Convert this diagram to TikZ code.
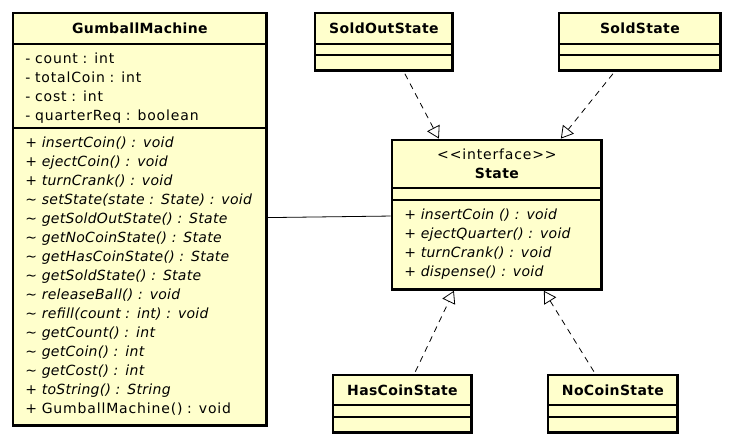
\documentclass[tikz,border=0pt]{standalone}
\usepackage{fontspec}
\setmainfont{DejaVu Sans}[UprightFeatures={LetterSpace=6}, BoldFeatures={LetterSpace=2.5},
  ItalicFeatures={LetterSpace=2}]
\usetikzlibrary{arrows.meta,fit}

\definecolor{umlfill}{HTML}{FFFFCC}

\tikzset{
  classname/.style={draw, line width=0.8pt, fill=umlfill, anchor=north west, inner sep=0pt,
    align=center, font=\fontsize{14}{19}\selectfont\bfseries},
  classpart/.style={draw, line width=0.8pt, fill=umlfill, anchor=north west, inner xsep=12pt,
    inner ysep=0pt, align=left, font=\fontsize{14}{19}\selectfont},
  classframe/.style={draw, line width=2.8pt, inner sep=0pt},
  realize/.style={line width=0.8pt, dash pattern=on 6pt off 5pt,
    -{Triangle[open, length=12pt, width=14pt]}},
  assoc/.style={line width=0.8pt}
}

\begin{document}
\begin{tikzpicture}[x=1pt, y=-1pt]
\useasboundingbox (0,0) rectangle (734,444);

    % GumballMachine
    \node[classname, text width=253pt, minimum height=30pt] (gmName) at (13,13) {GumballMachine};
    \node[classpart, text width=229pt, minimum height=83pt] (gmAttr) at (gmName.south west)
      {\rule{0pt}{16pt}- count : int\\- totalCoin : int\\- cost : int\\- quarterReq : boolean};
    \node[classpart, text width=229pt, minimum height=297pt] (gmOps) at (gmAttr.south west)
      {\itshape + insertCoin() : void\\\itshape + ejectCoin() : void\\\itshape + turnCrank() : void\\
       \itshape \textasciitilde{} setState(state : State) : void\\
       \itshape \textasciitilde{} getSoldOutState() : State\\
       \itshape \textasciitilde{} getNoCoinState() : State\\
       \itshape \textasciitilde{} getHasCoinState() : State\\
       \itshape \textasciitilde{} getSoldState() : State\\
       \itshape \textasciitilde{} releaseBall() : void\\
       \itshape \textasciitilde{} refill(count : int) : void\\
       \itshape \textasciitilde{} getCount() : int\\
       \itshape \textasciitilde{} getCoin() : int\\
       \itshape \textasciitilde{} getCost() : int\\
       \itshape + toString() : String\\
       \upshape + GumballMachine() : void};
    \node[classframe, fit=(gmName)(gmOps)] (gm) {};

    % State interface
    \node[classname, text width=209pt, minimum height=47pt] (stateName) at (392,140)
      {{\mdseries {<}{<}interface{>}{>}}\\State};
    \node[classpart, text width=185pt, minimum height=11pt] (stateAttr) at (stateName.south west) {};
    \node[classpart, text width=185pt, minimum height=89pt] (stateOps) at (stateAttr.south west)
      {\itshape + insertCoin () : void\\\itshape + ejectQuarter() : void\\
       \itshape + turnCrank() : void\\\itshape + dispense() : void};
    \node[classframe, fit=(stateName)(stateOps)] (state) {};

    % Top row
    \node[classname, text width=137pt, minimum height=30pt] (soldoutName) at (315,13) {SoldOutState};
    \node[classpart, text width=113pt, minimum height=10pt] (soldoutAttr) at (soldoutName.south west) {};
    \node[classpart, text width=113pt, minimum height=15pt] (soldoutOps) at (soldoutAttr.south west) {};
    \node[classframe, fit=(soldoutName)(soldoutOps)] (soldout) {};

    \node[classname, text width=161pt, minimum height=30pt] (soldName) at (559,13) {SoldState};
    \node[classpart, text width=137pt, minimum height=10pt] (soldAttr) at (soldName.south west) {};
    \node[classpart, text width=137pt, minimum height=15pt] (soldOps) at (soldAttr.south west) {};
    \node[classframe, fit=(soldName)(soldOps)] (sold) {};

    % Bottom row
    \node[classname, text width=138pt, minimum height=29pt] (hascoinName) at (333,375) {HasCoinState};
    \node[classpart, text width=114pt, minimum height=11pt] (hascoinAttr) at (hascoinName.south west) {};
    \node[classpart, text width=114pt, minimum height=15pt] (hascoinOps) at (hascoinAttr.south west) {};
    \node[classframe, fit=(hascoinName)(hascoinOps)] (hascoin) {};

    \node[classname, text width=129pt, minimum height=29pt] (nocoinName) at (548,375) {NoCoinState};
    \node[classpart, text width=105pt, minimum height=11pt] (nocoinAttr) at (nocoinName.south west) {};
    \node[classpart, text width=105pt, minimum height=15pt] (nocoinOps) at (nocoinAttr.south west) {};
    \node[classframe, fit=(nocoinName)(nocoinOps)] (nocoin) {};

    % Edges
    \draw[assoc] (gm) -- (state);
    \draw[realize] ([xshift=21pt,yshift=-2pt]soldout.south) -- ([xshift=-58pt]state.north);
    \draw[realize] ([xshift=-27pt,yshift=-2pt]sold.south) -- ([xshift=64pt]state.north);
    \draw[realize] ([xshift=13pt,yshift=2pt]hascoin.north) -- ([xshift=-43pt]state.south);
    \draw[realize] ([xshift=-19pt,yshift=2pt]nocoin.north) -- ([xshift=47pt]state.south);

\end{tikzpicture}
\end{document}
